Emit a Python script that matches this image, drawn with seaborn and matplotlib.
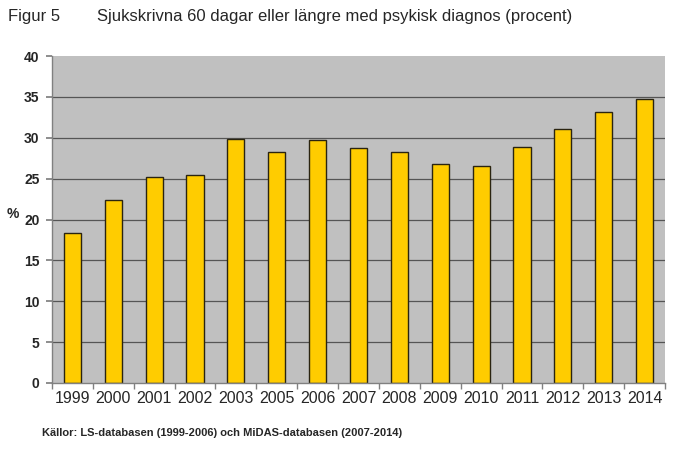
import matplotlib
matplotlib.use("Agg")
import matplotlib.pyplot as plt
import seaborn as sns
import pandas as pd
import numpy as np

years = ["1999", "2000", "2001", "2002", "2003", "2005", "2006", "2007",
         "2008", "2009", "2010", "2011", "2012", "2013", "2014"]
values = [18.3, 22.4, 25.2, 25.5, 29.9, 28.2, 29.7, 28.8,
          28.2, 26.8, 26.5, 28.9, 31.1, 33.2, 34.7]
y_ticks = [0, 5, 10, 15, 20, 25, 30, 35, 40]

sns.set_theme(style="white")
plt.rcParams['font.family'] = ['Liberation Sans', 'DejaVu Sans']

df = pd.DataFrame({"year": years, "value": values})

fig = plt.figure(figsize=(6.8, 4.5), dpi=100)
ax = fig.add_axes([52/680, 1-383/450, (665-52)/680, (383-56)/450])
ax.set_facecolor("#C0C0C0")
ax.set_axisbelow(True)
for t in y_ticks[1:-1]:
    ax.axhline(t, color="#555555", lw=0.9, zorder=0)

sns.barplot(data=df, x="year", y="value", color="#FFCC00", edgecolor="#2a2410",
            linewidth=1.0, width=0.42, saturation=1, ax=ax, zorder=2)

ax.set_ylim(0, 40)
ax.set_xlim(-0.5, len(years) - 0.5)
ax.set_yticks(y_ticks)
ax.set_yticklabels([str(t) for t in y_ticks], fontsize=10, fontweight="bold")
ax.set_xticks(range(len(years)))
ax.set_xticklabels(years, fontsize=11.5)
ax.set_xticks(np.arange(-0.5, len(years), 1.0), minor=True)
ax.tick_params(axis="x", which="major", length=0, pad=6)
ax.tick_params(axis="x", which="minor", length=4, color="#808080", direction="out", bottom=True)
ax.tick_params(axis="y", which="major", length=4, color="#808080", direction="out", left=True, pad=5)
ax.set_xlabel("")
ax.set_ylabel("")
for s in ["top", "right"]:
    ax.spines[s].set_visible(False)
for s in ["left", "bottom"]:
    ax.spines[s].set_color("#808080")
    ax.spines[s].set_linewidth(1.0)

fig.text(8/680, 1-17/450, "Figur 5", fontsize=12, va="center", ha="left")
fig.text(97/680, 1-17/450, "Sjukskrivna 60 dagar eller längre med psykisk diagnos (procent)",
         fontsize=12, va="center", ha="left")
fig.text(7/680, 1-214/450, "%", fontsize=10, fontweight="bold", va="center", ha="left")
fig.text(42/680, 1-433/450, "Källor: LS-databasen (1999-2006) och MiDAS-databasen (2007-2014)",
         fontsize=8, fontweight="bold", va="center", ha="left")

fig.savefig("out.png", dpi=100, facecolor="white")
